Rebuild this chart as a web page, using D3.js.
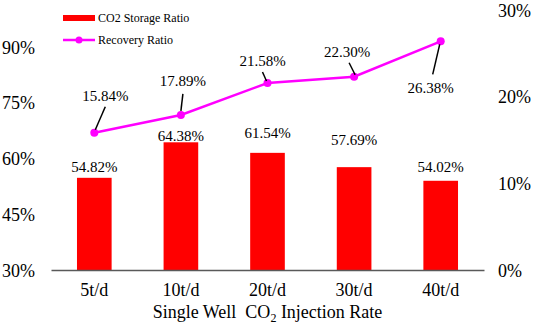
<!DOCTYPE html>
<html>
<head>
<meta charset="utf-8">
<script src="https://cdn.jsdelivr.net/npm/d3@7"></script>
<style>
  html, body { margin: 0; padding: 0; background: #fff; overflow: hidden; }
  svg { display: block; }
</style>
</head>
<body>
<div id="chart"></div>
<script>
// data
const categories = ["5t/d", "10t/d", "20t/d", "30t/d", "40t/d"];
const storageRatio = [0.5482, 0.6438, 0.6154, 0.5769, 0.5402];
const recoveryRatio = [0.1584, 0.1789, 0.2158, 0.2230, 0.2638];
const leftTicks = [0.30, 0.45, 0.60, 0.75, 0.90];
const rightTicks = [0, 0.10, 0.20, 0.30];
const seriesNames = ["CO2 Storage Ratio", "Recovery Ratio"];

// label placement (layout only, px relative to the mark)
const barLabelGap = [6, 1, 15, 22, 9];
const lineLabelPos = [[11, -32], [2, -29], [-5, -17], [-7, -20], [-10, 52]];
const leaderFrom = [[11, -26], [2, -21], [-5, -11], [-5, -14], [-8, 33]];
const leaderTo = [[1, -3], [0, -4], [-1, -2], [1, -2], [-1, 3]];

const serif = '"Liberation Serif", serif';

//size
const width = 533;
const height = 329;
const margin = { top: 10, bottom: 59, left: 51, right: 49 };
const innerWidth = width - margin.left - margin.right;
const innerHeight = height - margin.top - margin.bottom;

const pct = d3.format(".2%");

//scales
const xScale = d3
  .scaleBand()
  .domain(categories)
  .range([0, innerWidth])
  .paddingInner(0.6)
  .paddingOuter(0.3);

const yLeft = d3.scaleLinear().domain([0.30, 1.00]).range([innerHeight, 0]);
const yRight = d3.scaleLinear().domain([0, 0.30]).range([innerHeight, 0]);

const cx = (i) => xScale(categories[i]) + xScale.bandwidth() / 2;

const svg = d3
  .select("#chart")
  .append("svg")
  .attr("width", width)
  .attr("height", height);

const g = svg
  .append("g")
  .attr("transform", `translate(${margin.left},${margin.top})`);

// axis text: plain px offsets instead of em-based dy
const styleTicks = (a, y) => {
  a.selectAll("text")
    .style("font-family", serif)
    .style("font-size", "18px")
    .attr("fill", "#000")
    .attr("dy", null)
    .attr("y", y);
};

// left axis
g.append("g")
  .call(d3.axisLeft(yLeft).tickValues(leftTicks).tickSize(0).tickPadding(16).tickFormat(d3.format(".0%")))
  .call((a) => {
    a.select(".domain").remove();
    styleTicks(a, 6);
  });

// right axis
g.append("g")
  .attr("transform", `translate(${innerWidth},0)`)
  .call(d3.axisRight(yRight).tickValues(rightTicks).tickSize(0).tickPadding(14).tickFormat(d3.format(".0%")))
  .call((a) => {
    a.select(".domain").remove();
    styleTicks(a, 6);
  });

// bars
g.selectAll("rect.bar")
  .data(storageRatio)
  .join("rect")
  .attr("class", "bar")
  .attr("fill", "#ff0000")
  .attr("x", (d, i) => xScale(categories[i]))
  .attr("y", (d) => yLeft(d))
  .attr("width", xScale.bandwidth())
  .attr("height", (d) => innerHeight - yLeft(d));

g.selectAll("text.barlabel")
  .data(storageRatio)
  .join("text")
  .attr("class", "barlabel")
  .attr("text-anchor", "middle")
  .style("font-family", serif)
  .style("font-size", "15px")
  .attr("x", (d, i) => cx(i))
  .attr("y", (d, i) => yLeft(d) - barLabelGap[i])
  .text((d) => pct(d));

// bottom axis
g.append("g")
  .attr("transform", `translate(0,${innerHeight})`)
  .call(d3.axisBottom(xScale).tickSize(0))
  .call((a) => {
    a.select(".domain").attr("stroke", "#595959").attr("stroke-width", 1.5);
    styleTicks(a, 26);
  });

// line
const line = d3
  .line()
  .x((d, i) => cx(i))
  .y((d) => yRight(d));

g.append("path")
  .datum(recoveryRatio)
  .attr("fill", "none")
  .attr("stroke", "#ff00ff")
  .attr("stroke-width", 2.5)
  .attr("d", line);

g.selectAll("circle.pt")
  .data(recoveryRatio)
  .join("circle")
  .attr("class", "pt")
  .attr("fill", "#ff00ff")
  .attr("r", 4)
  .attr("cx", (d, i) => cx(i))
  .attr("cy", (d) => yRight(d));

// leader lines + labels
g.selectAll("line.leader")
  .data(recoveryRatio)
  .join("line")
  .attr("class", "leader")
  .attr("stroke", "#000")
  .attr("stroke-width", 1.5)
  .attr("x1", (d, i) => cx(i) + leaderFrom[i][0])
  .attr("y1", (d, i) => yRight(d) + leaderFrom[i][1])
  .attr("x2", (d, i) => cx(i) + leaderTo[i][0])
  .attr("y2", (d, i) => yRight(d) + leaderTo[i][1]);

g.selectAll("text.linelabel")
  .data(recoveryRatio)
  .join("text")
  .attr("class", "linelabel")
  .attr("text-anchor", "middle")
  .style("font-family", serif)
  .style("font-size", "15px")
  .attr("x", (d, i) => cx(i) + lineLabelPos[i][0])
  .attr("y", (d, i) => yRight(d) + lineLabelPos[i][1])
  .text((d) => pct(d));

// axis title
const title = svg
  .append("text")
  .attr("text-anchor", "middle")
  .style("font-family", serif)
  .style("font-size", "18px")
  .attr("x", margin.left + innerWidth / 2)
  .attr("y", 318);
title.append("tspan").text("Single Well\u00a0 CO");
title.append("tspan").style("font-size", "12px").attr("baseline-shift", "-4").text("2");
title.append("tspan").text(" Injection Rate");

// legend
const legend = svg.append("g").attr("transform", "translate(63,0)");
legend
  .append("rect")
  .attr("x", 0)
  .attr("y", 15)
  .attr("width", 32)
  .attr("height", 6)
  .attr("fill", "#ff0000");
legend
  .append("text")
  .attr("x", 35)
  .attr("y", 22)
  .style("font-family", serif)
  .style("font-size", "12px")
  .text(seriesNames[0]);
legend
  .append("line")
  .attr("x1", 0)
  .attr("x2", 32)
  .attr("y1", 40)
  .attr("y2", 40)
  .attr("stroke", "#ff00ff")
  .attr("stroke-width", 2.5);
legend
  .append("circle")
  .attr("cx", 16)
  .attr("cy", 40)
  .attr("r", 3.5)
  .attr("fill", "#ff00ff");
legend
  .append("text")
  .attr("x", 35)
  .attr("y", 44)
  .style("font-family", serif)
  .style("font-size", "12px")
  .text(seriesNames[1]);
</script>
</body>
</html>
